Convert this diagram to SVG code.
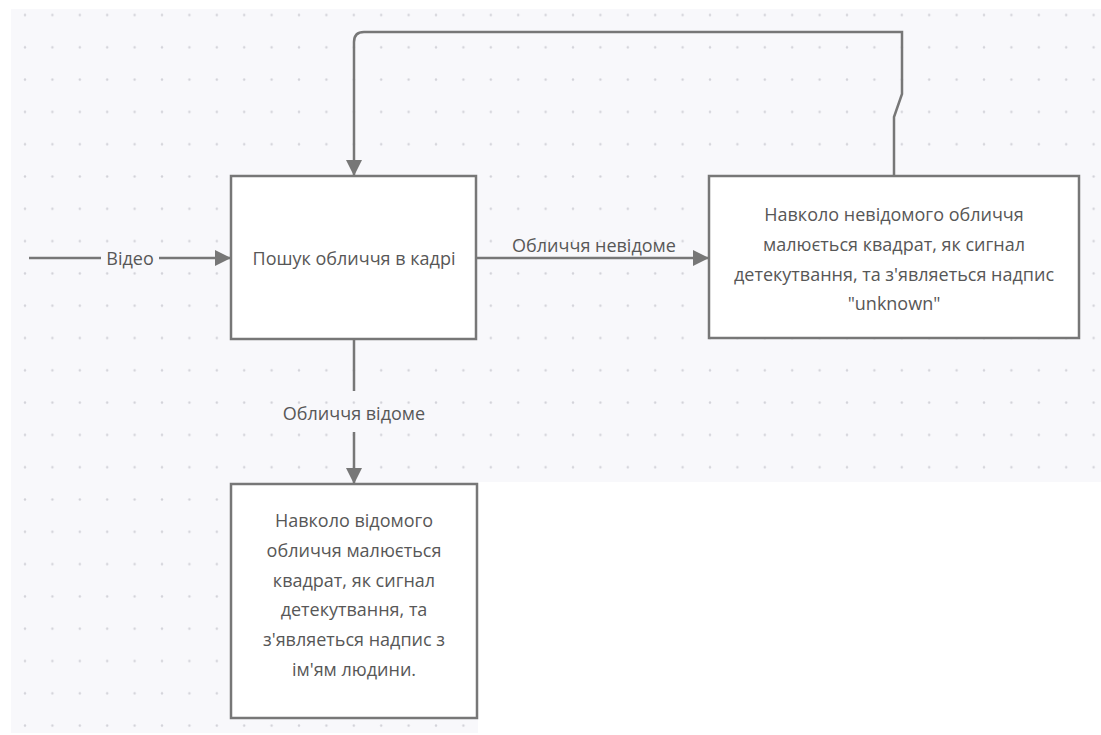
<svg xmlns="http://www.w3.org/2000/svg" width="1101" height="735" viewBox="0 0 1101 735">
  <defs>
    <pattern id="dots" patternUnits="userSpaceOnUse" x="11.3" y="-1.15" width="27.4" height="32.3">
      <circle cx="13.7" cy="16.15" r="1.2" fill="#d2d2d8"/>
    </pattern>
    <marker id="arrow" markerUnits="userSpaceOnUse" markerWidth="18" markerHeight="18" refX="16" refY="8" orient="auto">
      <path d="M0,0 L16,8 L0,16 Z" fill="#777"/>
    </marker>
    <style>
      .box { fill: #ffffff; stroke: #777777; stroke-width: 2.5; }
      .conn { fill: none; stroke: #777777; stroke-width: 2.5; }
      .t { font-family: "Open Sans", "Noto Sans", "Liberation Sans", sans-serif; font-size: 18px; fill: #575757; text-anchor: middle; }
    </style>
  </defs>
  <rect x="0" y="0" width="1101" height="735" fill="#ffffff"/>
  <path d="M11,9 H1101 V482 H478 V733 H11 Z" fill="#f8f8fb"/>
  <path d="M11,9 H1101 V482 H478 V733 H11 Z" fill="url(#dots)"/>

  <g id="connectors">
    <path class="conn" d="M29,258 H101"/>
    <path class="conn" d="M159,258 H231" marker-end="url(#arrow)"/>
    <path class="conn" d="M476,258 H709" marker-end="url(#arrow)"/>
    <path class="conn" d="M354,339 V391"/>
    <path class="conn" d="M354,432 V484" marker-end="url(#arrow)"/>
    <path class="conn" d="M894,176 V117 L902,94 V32 H364 Q354,32 354,42 V176" marker-end="url(#arrow)"/>
    <text class="t" x="130" y="265">Відео</text>
    <text class="t" x="594" y="252">Обличчя невідоме</text>
    <text class="t" x="354" y="420">Обличчя відоме</text>
  </g>

  <g id="node-search">
    <rect class="box" x="231" y="176" width="245" height="163"/>
    <text class="t" x="354" y="265">Пошук обличчя в кадрі</text>
  </g>

  <g id="node-unknown">
    <rect class="box" x="709" y="176" width="370" height="162"/>
    <text class="t" x="894" y="221">Навколо невідомого обличчя</text>
    <text class="t" x="894" y="251">малюється квадрат, як сигнал</text>
    <text class="t" x="894" y="281">детекутвання, та з'являеться надпис</text>
    <text class="t" x="894" y="310">"unknown"</text>
  </g>

  <g id="node-known">
    <rect class="box" x="231" y="484" width="246" height="234"/>
    <text class="t" x="354" y="527">Навколо відомого</text>
    <text class="t" x="354" y="557">обличчя малюється</text>
    <text class="t" x="354" y="587">квадрат, як сигнал</text>
    <text class="t" x="354" y="616">детекутвання, та</text>
    <text class="t" x="354" y="646">з'являеться надпис з</text>
    <text class="t" x="354" y="676">ім'ям людини.</text>
  </g>
</svg>
